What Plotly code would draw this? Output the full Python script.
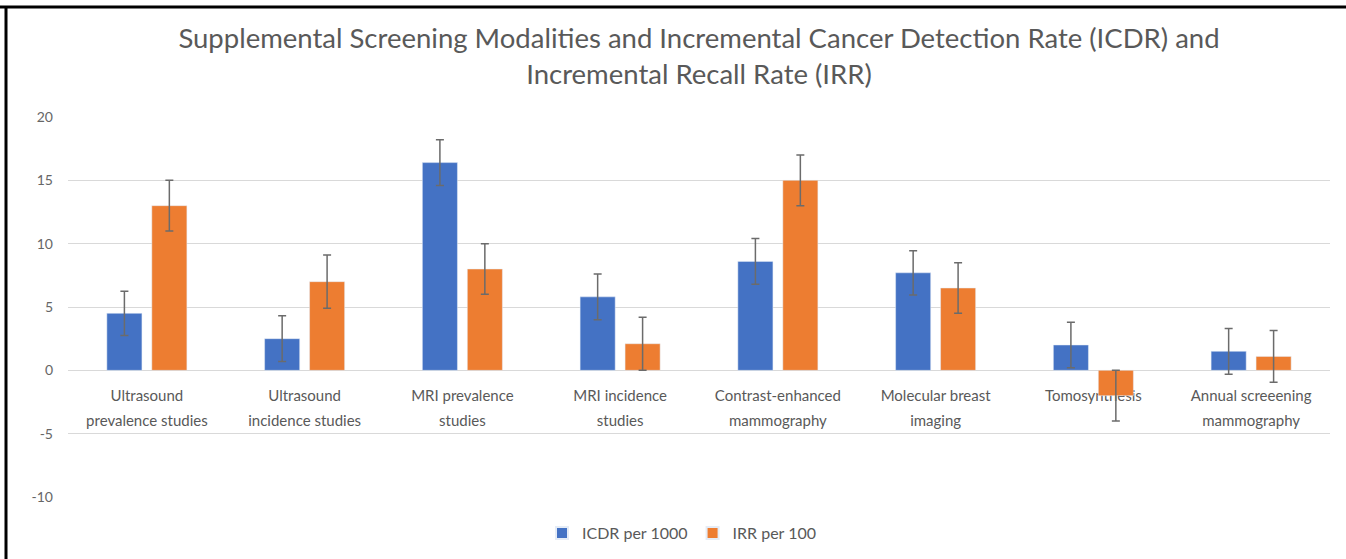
import plotly.graph_objects as go

categories = [
    "Ultrasound prevalence studies",
    "Ultrasound incidence studies",
    "MRI prevalence studies",
    "MRI incidence studies",
    "Contrast-enhanced mammography",
    "Molecular breast imaging",
    "Tomosynthesis",
    "Annual screeening mammography",
]
label_line1 = ["Ultrasound", "Ultrasound", "MRI prevalence", "MRI incidence",
               "Contrast-enhanced", "Molecular breast", "Tomosynthesis", "Annual screeening"]
label_line2 = ["prevalence studies", "incidence studies", "studies", "studies",
               "mammography", "imaging", "", "mammography"]
icdr = [4.5, 2.5, 16.4, 5.8, 8.6, 7.7, 2.0, 1.5]
icdr_err = [1.75, 1.8, 1.8, 1.8, 1.8, 1.75, 1.8, 1.8]
irr = [13.0, 7.0, 8.0, 2.1, 15.0, 6.5, -2.0, 1.1]
irr_err = [2.0, 2.1, 2.0, 2.1, 2.0, 2.0, 2.0, 2.05]
y_ticks = [-10, -5, 0, 5, 10, 15, 20]
y_tick_text = ["-10", "-5", "0", "5", "10", "15", "20"]

W, H = 1346, 559
ml, mr, mt, mb = 68, 16, 117, 62
pw, ph = W - ml - mr, H - mt - mb

err_color = "#6b6b6b"
fig = go.Figure()
fig.add_trace(go.Bar(
    name="ICDR per 1000", x=categories, y=icdr, marker_color="#4472C4",
    error_y=dict(type="data", array=icdr_err, visible=True, color=err_color, thickness=1.5, width=4),
))
fig.add_trace(go.Bar(
    name="IRR per 100", x=categories, y=irr, marker_color="#ED7D31",
    error_y=dict(type="data", array=irr_err, visible=True, color=err_color, thickness=1.5, width=4),
))
# invisible helper trace so the second label row axis renders
fig.add_trace(go.Scatter(
    x=categories, y=[0] * len(categories), xaxis="x2", mode="markers",
    marker=dict(opacity=0), showlegend=False, hoverinfo="skip",
))

font_family = "Lato, 'Open Sans', sans-serif"
ymin, ymax = -10, 20
xpos = (0 - ymin) / (ymax - ymin)
label_font = dict(size=15, color="#595959")
fig.update_layout(
    width=W, height=H,
    margin=dict(l=ml, r=mr, t=mt, b=mb, autoexpand=False),
    paper_bgcolor="white", plot_bgcolor="white",
    barmode="group", bargap=0.43, bargroupgap=0.22,
    title=dict(
        text="Supplemental Screening Modalities and Incremental Cancer Detection Rate (ICDR) and<br>Incremental Recall Rate (IRR)",
        x=(ml + pw / 2) / W, xanchor="center", y=1 - 48 / H, yanchor="middle",
        font=dict(family=font_family, size=27.5, color="#595959"),
    ),
    font=dict(family=font_family, color="#595959"),
    yaxis=dict(
        range=[ymin, ymax], tickvals=y_ticks, ticktext=y_tick_text,
        showgrid=True, gridcolor="#d9d9d9", gridwidth=1,
        zeroline=True, zerolinecolor="#d9d9d9", zerolinewidth=1,
        tickfont=dict(size=14, color="#666666"), ticklabelstandoff=14,
        showline=False, fixedrange=True,
    ),
    xaxis=dict(
        anchor="free", position=xpos, showline=False,
        tickmode="array", tickvals=categories, ticktext=label_line1,
        tickfont=label_font, layer="below traces",
        ticks="", showgrid=False, ticklabelstandoff=15,
    ),
    xaxis2=dict(
        overlaying="x", matches="x", anchor="free", position=xpos, side="bottom",
        showline=False, tickmode="array", tickvals=categories, ticktext=label_line2,
        tickfont=label_font, layer="below traces",
        ticks="", showgrid=False, zeroline=False, ticklabelstandoff=40,
    ),
    legend=dict(
        orientation="h", x=(682 - ml) / pw, xanchor="center", y=-36 / ph, yanchor="middle",
        font=dict(size=16, color="#595959"), itemsizing="constant", itemwidth=30,
    ),
    showlegend=True,
)

# black frame on the top and left edges
fig.add_shape(type="line", xref="paper", yref="paper",
              x0=(0 - ml) / pw, x1=(W - ml) / pw, y0=(H - mb - 7) / ph, y1=(H - mb - 7) / ph,
              line=dict(color="black", width=3))
fig.add_shape(type="line", xref="paper", yref="paper",
              x0=(6 - ml) / pw, x1=(6 - ml) / pw, y0=(H - mb - 7) / ph, y1=-mb / ph,
              line=dict(color="black", width=3))

fig.write_html(
    "out.html",
    config={"displayModeBar": False},
    post_script="document.body.style.margin='0';document.body.style.overflow='hidden';",
)
